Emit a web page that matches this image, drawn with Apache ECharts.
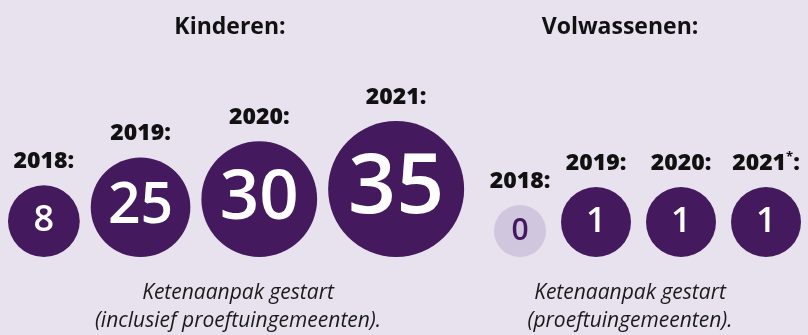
<!DOCTYPE html>
<html>
<head>
<meta charset="utf-8">
<script src="https://cdn.jsdelivr.net/npm/echarts@6/dist/echarts.min.js"></script>
<style>
  html, body { margin: 0; padding: 0; background: #e7e2ee; }
  #chart { width: 808px; height: 335px; }
</style>
</head>
<body>
<div id="chart"></div>
<script>
// Aantal gemeenten met een gestarte ketenaanpak, per jaar
const years = ['2018', '2019', '2020', '2021'];
const kinderen = [8, 25, 30, 35];
const volwassenen = [0, 1, 1, 1];
const volwassenenMarks = ['', '', '', '*'];
const groupTitles = ['Kinderen:', 'Volwassenen:'];
const groupNotes = [
  ['Ketenaanpak gestart', '(inclusief proeftuingemeenten).'],
  ['Ketenaanpak gestart', '(proeftuingemeenten).']
];

const PURPLE = '#44195d';
const PALE = '#d0c6de';
const INK = '#111111';

const maxValue = Math.max(...kinderen, ...volwassenen);

// Bubble diameter: an empty bubble for zero, then growing from 70px to 136px
function diameter(v) {
  if (v <= 0) return 52;
  const t = (v - 1) / (maxValue - 1);
  return 70 + 66 * Math.pow(t, 2.3);
}
function valueFont(d) {
  return Math.max(30, Math.round(0.75 * d - 18));
}

// Bubbles sit on a common baseline, packed left to right within each group
const BASELINE = 257;
const groups = [
  { values: kinderen, marks: ['', '', '', ''], left: 8, gap: 11 },
  { values: volwassenen, marks: volwassenenMarks, left: 494, gap: 15 }
];

const bubbleData = [];
const yearData = [];
groups.forEach(g => {
  let cursor = g.left;
  g.values.forEach((v, i) => {
    const d = diameter(v);
    const cx = cursor + d / 2;
    const cy = BASELINE - d / 2;
    cursor += d + g.gap;
    const empty = v <= 0;
    bubbleData.push({
      value: [cx, cy, v],
      symbolSize: d,
      itemStyle: { color: empty ? PALE : PURPLE, opacity: 1 },
      label: { fontSize: valueFont(d), color: empty ? PURPLE : '#ffffff' }
    });
    yearData.push({
      value: [cx, cy, v],
      symbolSize: d,
      year: years[i],
      mark: g.marks[i]
    });
  });
});

const chart = echarts.init(document.getElementById('chart'), null, { renderer: 'canvas' });

const textEls = [];
const titleX = [230, 620];
const noteX = [238, 630];
groupTitles.forEach((t, i) => {
  textEls.push({
    type: 'text', x: titleX[i], y: 27, silent: true,
    style: {
      text: t, align: 'center', verticalAlign: 'middle', textAlign: 'center', textVerticalAlign: 'middle',
      font: 'bold 23px "Open Sans", sans-serif', fill: INK
    }
  });
  groupNotes[i].forEach((line, j) => {
    textEls.push({
      type: 'text', x: noteX[i], y: 293 + j * 28, silent: true,
      style: {
        text: line, align: 'center', verticalAlign: 'middle', textAlign: 'center', textVerticalAlign: 'middle',
        font: 'italic 21px "Open Sans", sans-serif', fill: '#1a1a1a'
      }
    });
  });
});

chart.setOption({
  backgroundColor: '#e7e2ee',
  animation: false,
  grid: { left: 0, right: 0, top: 0, bottom: 0 },
  xAxis: { type: 'value', min: 0, max: 808, show: false },
  yAxis: { type: 'value', min: 0, max: 335, inverse: true, show: false },
  graphic: textEls,
  series: [
    {
      name: 'aantal',
      type: 'scatter',
      silent: true,
      data: bubbleData,
      itemStyle: { opacity: 1 },
      label: {
        show: true,
        position: 'inside',
        fontFamily: '"Open Sans", sans-serif',
        fontWeight: 600,
        formatter: p => String(p.value[2])
      }
    },
    {
      name: 'jaar',
      type: 'scatter',
      silent: true,
      data: yearData,
      itemStyle: { color: 'rgba(0,0,0,0)', opacity: 1 },
      label: {
        show: true,
        position: 'top',
        distance: 12,
        color: INK,
        fontFamily: '"Open Sans", sans-serif',
        fontWeight: 800,
        fontSize: 23,
        lineHeight: 24,
        formatter: p => p.data.year + (p.data.mark ? '{sup|' + p.data.mark + '}' : '') + ':',
        rich: {
          sup: { fontSize: 13, lineHeight: 24, verticalAlign: 'top', fontWeight: 'bold', color: INK, fontFamily: '"Open Sans", sans-serif' }
        }
      }
    }
  ]
});
</script>
</body>
</html>
